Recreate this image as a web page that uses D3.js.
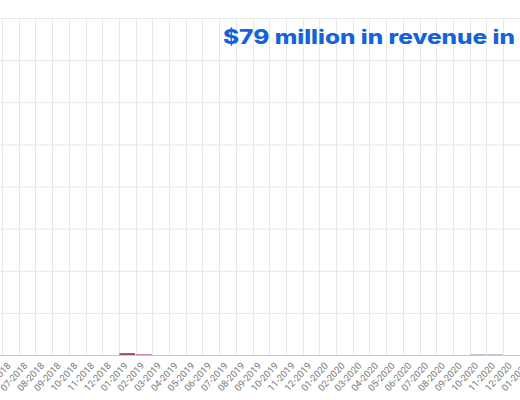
<!DOCTYPE html>
<html><head><meta charset="utf-8">
<script src="https://cdn.jsdelivr.net/npm/d3@7"></script>
<style>html,body{margin:0;padding:0;background:#fff;overflow:hidden}</style>
</head><body>
<svg id="c" width="520" height="400"></svg>
<script>
const months = ["05-2018","06-2018","07-2018","08-2018","09-2018","10-2018","11-2018","12-2018",
"01-2019","02-2019","03-2019","04-2019","05-2019","06-2019","07-2019","08-2019","09-2019","10-2019","11-2019","12-2019",
"01-2020","02-2020","03-2020","04-2020","05-2020","06-2020","07-2020","08-2020","09-2020","10-2020","11-2020","12-2020",
"01-2021"];
// revenue, millions (tiny values in this visible part)
const seriesA = [0,0,0,0,0,0,0,0, 0.45,0.15,0,0,0,0,0,0,0,0,0,0, 0,0,0,0,0,0,0,0,0,0,0,0, 0];
const seriesB = [0,0,0,0,0,0,0,0, 0,0,0,0,0,0,0,0,0,0,0,0, 0,0,0,0,0,0,0,0,0,0.15,0.15,0, 0];
const yTicks = [0,10,20,30,40,50,60,70,80];
const title = "$79 million in revenue in";

const svg = d3.select("#c");
const x = d3.scaleBand().domain(months).range([-14.7, -14.7 + 16.7*months.length]).padding(0);
const y = d3.scaleLinear().domain([0,80]).range([355,18]);

// horizontal grid
svg.append("g")
  .call(d3.axisRight(y).tickValues(yTicks).tickSize(520).tickFormat(""))
  .call(g=>g.select(".domain").remove())
  .call(g=>g.selectAll("line").attr("stroke","#e8e8e8").attr("stroke-width",1));

// vertical grid at band boundaries
svg.append("g").selectAll("line").data(months).join("line")
  .attr("x1",d=>Math.round(x(d)+x.bandwidth())+0.5).attr("x2",d=>Math.round(x(d)+x.bandwidth())+0.5)
  .attr("y1",y(80)).attr("y2",y(0))
  .attr("stroke","#e8e8e8").attr("stroke-width",1);

// bars
svg.append("g").selectAll("rect").data(months.map((m,i)=>({m,v:seriesA[i]}))).join("rect")
  .attr("x",d=>x(d.m)+0.5).attr("width",x.bandwidth()-1)
  .attr("y",d=>y(d.v)).attr("height",d=>y(0)-y(d.v))
  .attr("fill","#a34a6a");
svg.append("g").selectAll("rect").data(months.map((m,i)=>({m,a:seriesA[i],v:seriesB[i]}))).join("rect")
  .attr("x",d=>x(d.m)+0.5).attr("width",x.bandwidth()-1)
  .attr("y",d=>y(d.a+d.v)).attr("height",d=>y(d.a)-y(d.a+d.v))
  .attr("fill","#a39ab8");

// x axis
const xa = svg.append("g").attr("transform",`translate(0,${y(0)})`)
  .call(d3.axisBottom(x).tickSize(0).tickPadding(0));
xa.select(".domain").attr("stroke","#c8c8c8").attr("stroke-width",1.2);
xa.selectAll("text")
  .attr("font-family","Roboto, 'Liberation Sans', sans-serif").attr("font-size",9.5).attr("fill","#777")
  .attr("text-anchor","end").attr("dy",0).attr("y",0)
  .attr("transform","translate(1,11) rotate(-48)");

// title
svg.append("text").attr("x",223).attr("y",44)
  .attr("font-family","Inter, 'Open Sans', sans-serif").attr("font-weight",800).attr("font-size",20)
  .attr("textLength",292).attr("lengthAdjust","spacingAndGlyphs")
  .attr("fill","#1463dc").text(title);
</script>
</body></html>
